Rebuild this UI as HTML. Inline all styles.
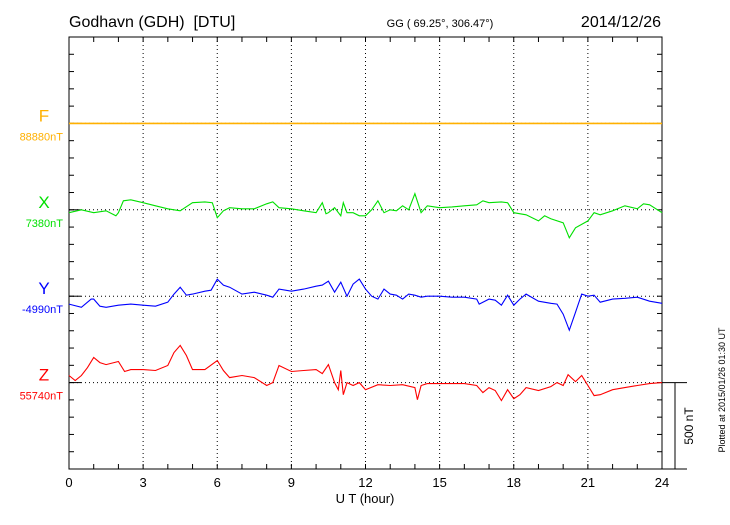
<!DOCTYPE html>
<html><head><meta charset="utf-8"><style>
body{margin:0;background:#fff;}
svg text{font-family:"Liberation Sans",sans-serif;white-space:pre;}
</style></head><body>
<svg id="chart" width="730" height="520" xmlns="http://www.w3.org/2000/svg">
<text x="69" y="27" font-size="16" xml:space="preserve">Godhavn (GDH)  [DTU]</text>
<text x="440" y="27" font-size="11" text-anchor="middle">GG ( 69.25°, 306.47°)</text>
<text x="661" y="27" font-size="16" text-anchor="end">2014/12/26</text>
<text x="365" y="503" font-size="13" text-anchor="middle">U T (hour)</text>
<text transform="translate(725,390) rotate(-90)" font-size="9" text-anchor="middle">Plotted at 2015/01/26 01:30 UT</text>
<text transform="translate(693,426) rotate(-90)" font-size="12" text-anchor="middle">500 nT</text>
<g id="axes"></g>
<g id="series"></g>
</svg>
<script>
const xTickLabels = ["0","3","6","9","12","15","18","21","24"];
const seriesNames = ["F","X","Y","Z"];
const baselineLabels = ["88880nT","7380nT","-4990nT","55740nT"];
const fHours = [0,24];
const fValues = [0,0];
const xHours = [0,0.5,1,1.5,1.9,2,2.2,2.5,3,3.5,4,4.5,5,5.5,5.8,6,6.25,6.5,7,7.5,8,8.25,8.5,9,9.5,10,10.25,10.4,10.5,10.75,11,11.1,11.25,11.5,11.75,12,12.25,12.5,12.75,13,13.25,13.5,13.75,14,14.25,14.5,15,15.5,16,16.5,16.75,17,17.5,17.75,18,18.5,19,19.25,19.5,20,20.25,20.5,21,21.25,21.5,22,22.5,23,23.25,23.5,24];
const xValues = [-17,0,-17,-6,-35,-17,52,58,41,23,6,-6,41,46,41,-46,-6,12,6,6,35,46,12,6,-6,-17,41,-23,-17,12,-35,41,-17,-17,-35,-35,0,52,-17,0,-6,23,0,93,-17,23,12,17,23,29,52,41,46,41,-17,-29,-64,-35,-52,-75,-162,-104,-64,-17,-29,-6,23,6,35,29,-17];
const yHours = [0,0.5,0.9,1,1.25,1.5,2,2.5,3,3.5,4,4.25,4.5,4.75,5,5.5,5.75,6,6.25,6.5,7,7.5,8,8.25,8.5,9,9.5,10,10.25,10.5,10.75,11,11.25,11.5,11.75,12,12.25,12.5,12.75,13,13.25,13.5,13.75,14,14.25,14.5,15,15.5,16,16.5,16.6,17,17.25,17.5,17.75,18,18.25,18.5,19,19.5,19.75,20,20.25,20.5,20.75,21,21.25,21.5,22,22.5,23,23.5,24];
const yValues = [-46,-64,-17,-17,-58,-64,-52,-46,-52,-58,-35,12,52,6,12,29,35,99,64,52,12,23,6,-6,41,29,41,58,64,87,23,81,0,70,99,41,0,-17,41,12,6,-17,12,6,-6,0,0,-6,-6,-17,-46,-17,-23,-52,6,-52,-17,12,-29,-41,-46,-104,-197,-93,12,0,6,-35,-17,-12,-6,-29,-41];
const zHours = [0,0.25,0.5,0.75,1,1.25,1.5,2,2.25,2.5,3,3.5,4,4.25,4.5,4.75,5,5.5,6,6.25,6.5,7,7.5,8,8.25,8.5,9,9.5,10,10.25,10.5,10.75,10.9,11,11.1,11.25,11.5,11.75,12,12.5,13,13.5,14,14.1,14.25,14.5,15,15.5,16,16.5,16.75,17,17.25,17.5,17.75,18,18.25,18.5,19,19.5,19.75,20,20.2,20.5,20.75,21,21.25,21.5,22,22.5,23,23.5,24];
const zValues = [41,12,41,87,145,116,104,122,64,75,75,70,99,174,215,157,75,75,128,70,29,41,29,-17,0,99,64,70,75,52,104,0,-41,70,-70,0,-17,0,-41,-12,-17,-12,-29,-99,-17,-6,-6,-6,-6,-17,-58,-29,-46,-104,-41,-93,-70,-29,-46,-23,0,-17,46,6,41,-17,-75,-70,-41,-29,-17,-6,0];

const NS="http://www.w3.org/2000/svg";
const L=69,R=662,T=37,B=469;
const step=(B-T)/25;
const baselines=[T+5*step,T+10*step,T+15*step,T+20*step];
const colors=["#ffb000","#00e000","#0000ff","#ff0000"];
const pxPerNT=(5*step)/500;
const xs=h=>L+(R-L)*h/24;
const ys=(i,v)=>baselines[i]-v*pxPerNT;
function mk(tag,attrs,parent){const e=document.createElementNS(NS,tag);for(const k in attrs)e.setAttribute(k,attrs[k]);parent.appendChild(e);return e;}
const ax=document.getElementById('axes');
for(let h=3;h<24;h+=3){const g=mk('line',{x1:xs(h),x2:xs(h),y1:T,y2:B,stroke:'#000','stroke-width':1,'stroke-dasharray':'1,3'},ax);

}
baselines.forEach((y,i)=>{const g=mk('line',{x1:L,x2:R,y1:y,y2:y,stroke:'#000','stroke-width':1,'stroke-dasharray':'1,3'},ax);


mk('line',{x1:L,x2:L+12,y1:y,y2:y,stroke:'#000','stroke-width':1},ax);
const t=mk('text',{x:44,y:y-1,'font-size':17,'text-anchor':'middle',fill:colors[i]},ax);t.textContent=seriesNames[i];
t.setAttribute('y',y-2);


const b=mk('text',{x:63,y:y+17,'font-size':11,'text-anchor':'end',fill:colors[i]},ax);b.textContent=baselineLabels[i];

});
const fr=mk('rect',{x:L,y:T,width:R-L,height:B-T,fill:'none',stroke:'#000','stroke-width':1},ax);


for(let k=1;k<25;k++){const y=T+k*step;mk('line',{x1:L,x2:L+5,y1:y,y2:y,stroke:'#000'},ax);mk('line',{x1:R-5,x2:R,y1:y,y2:y,stroke:'#000'},ax);}
for(let h=1;h<24;h++){mk('line',{x1:xs(h),x2:xs(h),y1:T,y2:T+5,stroke:'#000'},ax);mk('line',{x1:xs(h),x2:xs(h),y1:B-5,y2:B,stroke:'#000'},ax);}
xTickLabels.forEach((s,i)=>{const t=mk('text',{x:xs(i*3),y:487,'font-size':13,'text-anchor':'middle'},ax);t.textContent=s;

});
mk('line',{x1:R,x2:687,y1:baselines[3],y2:baselines[3],stroke:'#000'},ax);
mk('line',{x1:R,x2:687,y1:B,y2:B,stroke:'#000'},ax);
const sb=mk('line',{x1:675,x2:675,y1:baselines[3],y2:baselines[3]+500*pxPerNT,stroke:'#000'},ax);


const sg=document.getElementById('series');
[[fHours,fValues],[xHours,xValues],[yHours,yValues],[zHours,zValues]].forEach(([hs,vs],i)=>{
const d=hs.map((h,j)=>(j?'L':'M')+xs(h).toFixed(1)+','+ys(i,vs[j]).toFixed(1)).join('');
const p=mk('path',{d:d,fill:'none',stroke:colors[i],'stroke-width':i===0?1.6:1.1},sg);

});
</script>
</body></html>
